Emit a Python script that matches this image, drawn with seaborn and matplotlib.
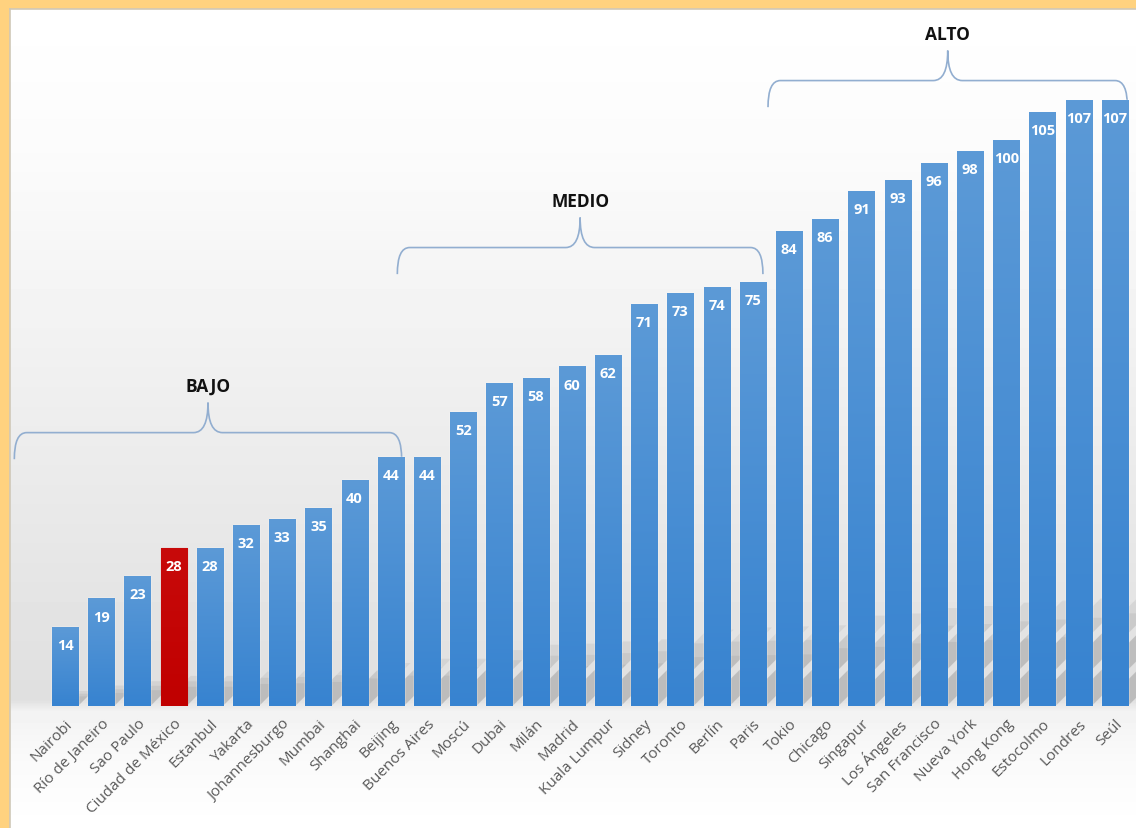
import numpy as np
import matplotlib
matplotlib.use("Agg")
import matplotlib.pyplot as plt
import matplotlib.transforms as mtrans
import seaborn as sns
from matplotlib.path import Path
from matplotlib.patches import PathPatch, Polygon
from matplotlib.colors import LinearSegmentedColormap

# ---------------- data ----------------
cities = ["Nairobi", "Río de Janeiro", "Sao Paulo", "Ciudad de México", "Estanbul",
          "Yakarta", "Johannesburgo", "Mumbai", "Shanghai", "Beijing",
          "Buenos Aires", "Moscú", "Dubai", "Milán", "Madrid",
          "Kuala Lumpur", "Sidney", "Toronto", "Berlín", "Paris",
          "Tokio", "Chicago", "Singapur", "Los Ángeles", "San Francisco",
          "Nueva York", "Hong Kong", "Estocolmo", "Londres", "Seúl"]
values = [14, 19, 23, 28, 28, 32, 33, 35, 40, 44,
          44, 52, 57, 58, 60, 62, 71, 73, 74, 75,
          84, 86, 91, 93, 96, 98, 100, 105, 107, 107]
highlight = "Ciudad de México"
group_names = ["BAJO", "MEDIO", "ALTO"]
group_spans = [(-1.40, 9.30), (9.18, 19.28), (19.42, 29.35)]
group_levels = [43.6, 76.3, 105.8]

# ---------------- style ----------------
sns.set_theme(style="white")
plt.rcParams['font.family'] = ['Open Sans', 'DejaVu Sans']

W, H = 1136, 829
fig = plt.figure(figsize=(W / 100, H / 100), dpi=100, facecolor="#ffd27f")

# background panel with vertical gradient
bg = fig.add_axes([10 / W, 0, 1 - 10 / W, (H - 10) / H])
rows = np.arange(10, H)
prof = np.interp(rows, [10, 150, 350, 550, 700, 712, 760, 829],
                 [1.0, 0.985, 0.945, 0.905, 0.875, 0.95, 0.98, 1.0])
img = np.repeat(prof[:, None], 2, axis=1)
bg.imshow(img, cmap="gray", vmin=0, vmax=1, aspect="auto", extent=[0, 1, 0, 1],
          interpolation="nearest")
bg.set_xlim(0, 1); bg.set_ylim(0, 1)
bg.set_xticks([]); bg.set_yticks([])
for k, s in bg.spines.items():
    if k in ("top", "left"):
        s.set_color("#cfc8b8"); s.set_linewidth(1.2)
    else:
        s.set_visible(False)

# main axes
base_px, top_px = 707, 10
ppu = 5.66
ax = fig.add_axes([10 / W, (H - base_px) / H, 1 - 10 / W, (base_px - top_px) / H])
ax.patch.set_alpha(0)

pal = {c: ("#c00000" if c == highlight else "#4a8fd4") for c in cities}
sns.barplot(x=cities, y=values, hue=cities, palette=pal, legend=False,
            width=0.72, saturation=1, ax=ax, zorder=3)
ax.set_xlim((10 - 65) / 36.2, (1136 - 65) / 36.2)
ax.set_ylim(0, (base_px - top_px) / ppu)

# shadows (perspective) behind bars
sx = ppu / 36.2
for i, v in enumerate(values):
    h = 0.19 * v
    for k, a in enumerate([0.09, 0.09, 0.09]):
        hh = h * (1 - 0.18 * k)
        poly = Polygon([(i - 0.36, 0), (i + 0.36, 0),
                        (i + 0.36 + hh * sx, hh), (i - 0.36 + hh * sx, hh)],
                       closed=True, facecolor="#555555", edgecolor="none",
                       alpha=a, zorder=1)
        ax.add_patch(poly)

# gradient overlay on each bar
blue_cmap = LinearSegmentedColormap.from_list("b", ["#3783d0", "#5c9ad7"])
red_cmap = LinearSegmentedColormap.from_list("r", ["#c00000", "#c80a0a"])
grad = np.linspace(0, 1, 256)[:, None]
for i, (p, c) in enumerate(zip(ax.patches[:len(values)], cities)):
    x0, y0 = p.get_x(), p.get_y()
    w, hgt = p.get_width(), p.get_height()
    cm = red_cmap if c == highlight else blue_cmap
    im = ax.imshow(grad, cmap=cm, aspect="auto", origin="lower",
                   extent=[x0, x0 + w, y0, y0 + hgt], zorder=4)
    im.set_clip_path(p)
    ax.text(x0 + w / 2, hgt - 3.2, f"{values[i]}", ha="center", va="center",
            color="white", fontsize=10.5, fontweight="bold", zorder=6)
    if c == highlight:
        p.set_edgecolor("#e03030"); p.set_linewidth(0.8)

ax.set_xlim((10 - 65) / 36.2, (1136 - 65) / 36.2)
ax.set_ylim(0, (base_px - top_px) / ppu)

# braces
def brace(ax, x0, x1, y0, name):
    xc = (x0 + x1) / 2
    y1 = y0 + 4.7
    y2 = y0 + 10.0
    rx = 0.34
    rc = 0.40
    verts = [(x0, y0), (x0, y1), (x0 + rx, y1),
             (xc - rc, y1),
             (xc, y1), (xc, y2),
             (xc, y1), (xc + rc, y1),
             (x1 - rx, y1),
             (x1, y1), (x1, y0)]
    codes = [Path.MOVETO, Path.CURVE3, Path.CURVE3,
             Path.LINETO,
             Path.CURVE3, Path.CURVE3,
             Path.CURVE3, Path.CURVE3,
             Path.LINETO,
             Path.CURVE3, Path.CURVE3]
    ax.add_patch(PathPatch(Path(verts, codes), facecolor="none",
                           edgecolor="#92aed0", lw=1.2, zorder=2, clip_on=False))
    ax.text(xc, y0 + 12.9, name, ha="center", va="center", fontsize=12.5,
            fontweight="bold", color="#111111", zorder=6)

for name, (a, b), lev in zip(group_names, group_spans, group_levels):
    brace(ax, a, b, lev, name)

# ticks
ax.set_xticks(range(len(cities)))
ax.set_xticklabels(cities, rotation=45, ha="right", rotation_mode="anchor",
                   fontsize=11, color="#595959")
off = mtrans.ScaledTranslation(7 / 100, 0, fig.dpi_scale_trans)
for lab in ax.get_xticklabels():
    lab.set_transform(lab.get_transform() + off)
ax.tick_params(axis="x", length=0, pad=7)
ax.set_yticks([])
ax.set_xlabel(""); ax.set_ylabel("")
for s in ax.spines.values():
    s.set_visible(False)

fig.savefig("out.png", dpi=100, facecolor=fig.get_facecolor())
